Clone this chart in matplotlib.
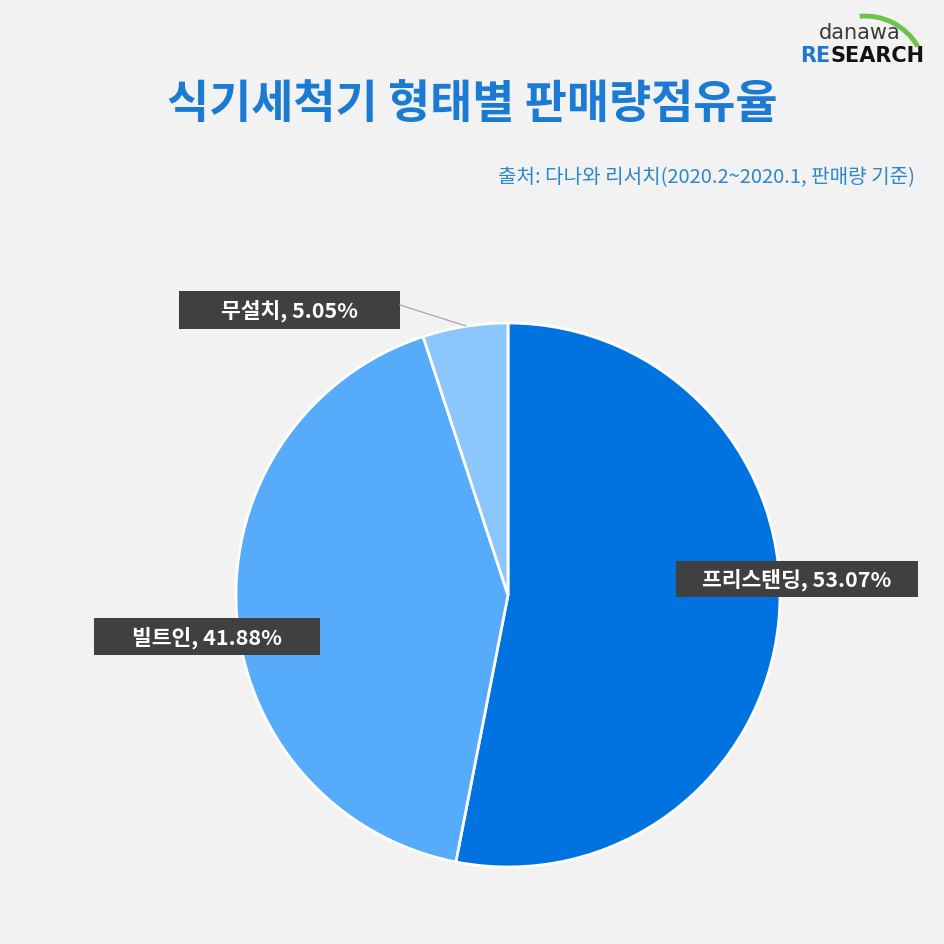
import matplotlib.pyplot as plt
from matplotlib.patches import Rectangle, Arc

plt.rcParams['font.family'] = ['Noto Sans CJK KR', 'DejaVu Sans']

labels = ['프리스탠딩', '빌트인', '무설치']
shares = [53.07, 41.88, 5.05]
colors = ['#0073E0', '#56ABFA', '#8DC6FC']

W = H = 945
fig = plt.figure(figsize=(9.45, 9.45), dpi=100, facecolor='#F2F2F2')


def fx(px):
    return px / W


def fy(py):
    return 1 - py / H


ax = fig.add_axes([fx(236), fy(868), 544 / W, 544 / H])
ax.pie(shares, colors=colors, startangle=90, counterclock=False,
       wedgeprops=dict(edgecolor='white', linewidth=2))
ax.set_xlim(-1, 1)
ax.set_ylim(-1, 1)
ax.set_aspect('equal')
ax.axis('off')

# title / source
fig.text(fx(472), fy(105), '식기세척기 형태별 판매량점유율', ha='center', va='center',
         fontsize=33, fontweight='bold', color='#1B7BD3')
fig.text(fx(915), fy(178), '출처: 다나와 리서치(2020.2~2020.1, 판매량 기준)', ha='right',
         va='center', fontsize=14.5, color='#2A88CE')

# label boxes (x0, y0, x1, y1 in pixels)
boxes = [(676, 562, 918, 598), (94, 619, 320, 656), (179, 292, 400, 330)]
for (x0, y0, x1, y1), lab, val in zip(boxes, labels, shares):
    fig.add_artist(Rectangle((fx(x0), fy(y1)), fx(x1 - x0), (y1 - y0) / H,
                             transform=fig.transFigure, facecolor='#404040',
                             edgecolor='none'))
    fig.text(fx((x0 + x1) / 2), fy((y0 + y1) / 2), f'{lab}, {val:.2f}%',
             ha='center', va='center', fontsize=15.5, fontweight='bold', color='white')

# leader line for the small slice
fig.add_artist(plt.Line2D([fx(400), fx(466)], [fy(306), fy(327)],
                          transform=fig.transFigure, color='#A6A6A6', linewidth=0.9))

# logo
fig.add_artist(Arc((fx(865), fy(78)), 2 * 61 / W, 2 * 61 / H, theta1=30, theta2=95,
                   transform=fig.transFigure, color='#6CC24A', linewidth=3.5))
fig.text(fx(860), fy(33), 'danawa', ha='center', va='center', fontsize=15,
         color='#3A3A3A', family='DejaVu Sans')
re = fig.text(fx(800), fy(56), 'RE', ha='left', va='center', fontsize=15,
              fontweight='bold', color='#1E78D2', family='DejaVu Sans')
ax.annotate('SEARCH', xy=(1, 0.5), xycoords=re, ha='left', va='center',
            fontsize=15, fontweight='bold', color='#111111',
            family='DejaVu Sans', annotation_clip=False)

fig.savefig('out.png', dpi=100, facecolor=fig.get_facecolor())
